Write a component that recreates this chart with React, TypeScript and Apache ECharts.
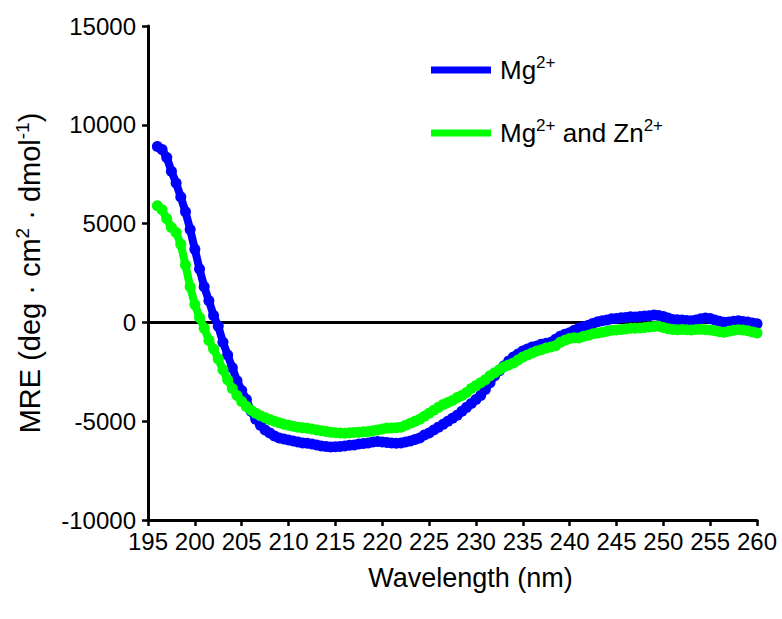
import React, { useEffect, useRef } from "react";
import * as echarts from "echarts";

// Wavelength grid (nm), sampled every 0.5 nm from 196 to 260
const wavelengthStart = 196;
const wavelengthStep = 0.5;

// Mean residue ellipticity, Mg2+ only
const mreMg = [
  8900, 8750, 8350, 7650, 7050, 6350, 5600, 4700, 3700, 2700,
  1800, 1100, 350, -200, -1000, -1650, -2300, -2950, -3450, -3900,
  -4500, -4900, -5200, -5450, -5600, -5750, -5850, -5900, -5950, -6000,
  -6050, -6100, -6120, -6150, -6200, -6250, -6280, -6300, -6290, -6280,
  -6250, -6220, -6200, -6150, -6130, -6100, -6050, -6030, -6050, -6080,
  -6100, -6110, -6100, -6050, -6000, -5930, -5850, -5700, -5600, -5450,
  -5300, -5150, -5000, -4850, -4700, -4500, -4300, -4100, -3900, -3700,
  -3400, -3050, -2700, -2450, -2200, -1950, -1750, -1600, -1450, -1350,
  -1250, -1200, -1100, -1050, -1000, -850, -700, -600, -520, -400,
  -300, -220, -150, -50, 30, 80, 120, 180, 200, 230,
  250, 280, 270, 300, 320, 340, 380, 350, 300, 220,
  150, 130, 120, 100, 80, 120, 180, 220, 200, 120,
  60, 10, 20, 60, 80, 50, 20, -30, -70,
];

// Mean residue ellipticity, Mg2+ and Zn2+
const mreMgZn = [
  5900, 5700, 5250, 4800, 4550, 3950, 2900, 1800, 900, 250,
  -300, -900, -1350, -1850, -2400, -2900, -3350, -3700, -4000, -4250,
  -4450, -4600, -4720, -4820, -4920, -5000, -5080, -5150, -5200, -5250,
  -5300, -5330, -5360, -5400, -5450, -5480, -5520, -5560, -5580, -5600,
  -5610, -5590, -5570, -5560, -5540, -5520, -5480, -5440, -5400, -5350,
  -5340, -5330, -5300, -5200, -5100, -5000, -4900, -4750, -4600, -4450,
  -4300, -4150, -4050, -3950, -3800, -3700, -3550, -3350, -3200, -3050,
  -2900, -2700, -2550, -2400, -2250, -2150, -2050, -1900, -1750, -1650,
  -1550, -1450, -1380, -1300, -1250, -1180, -1000, -900, -820, -780,
  -790, -700, -650, -580, -540, -500, -450, -400, -380, -360,
  -330, -300, -290, -280, -260, -230, -210, -200, -260, -320,
  -360, -370, -360, -370, -380, -360, -350, -370, -380, -420,
  -470, -500, -450, -400, -370, -380, -420, -480, -540,
];

// Axis ranges and ticks
const xMin = 195;
const xMax = 260;
const xInterval = 5;
const yMin = -10000;
const yMax = 15000;
const yInterval = 5000;

const seriesNames = ["Mg", "MgZn"];
const seriesColors = ["#0000ff", "#00ff00"];

const FONT = "'Liberation Sans', Arial, Helvetica, sans-serif";

function toPairs(values: number[]): [number, number][] {
  return values.map((v, i) => [wavelengthStart + i * wavelengthStep, v]);
}

export default function App() {
  const ref = useRef<HTMLDivElement>(null);

  useEffect(() => {
    if (!ref.current) return;
    const chart = echarts.init(ref.current, undefined, { renderer: "svg" });

    const curve = (name: string, color: string, values: number[], z: number) => ({
      name,
      type: "line",
      data: toPairs(values),
      z,
      symbol: "circle",
      symbolSize: 11,
      showSymbol: true,
      itemStyle: { color },
      lineStyle: { color, width: 8 },
      emphasis: { disabled: true },
      silent: true,
    });

    const supRich = (size: number, lh: number) => ({
      b: { fontSize: size, lineHeight: lh, fontFamily: FONT, color: "#000" },
      s: {
        fontSize: Math.round(size * 0.64),
        lineHeight: Math.round(lh * 0.62),
        verticalAlign: "top",
        fontFamily: FONT,
        color: "#000",
      },
    });

    chart.setOption({
      animation: false,
      textStyle: { fontFamily: FONT, color: "#000" },
      grid: { left: 148, right: 25, top: 26, bottom: 99, containLabel: false },
      legend: {
        orient: "vertical",
        left: 426,
        top: 49,
        itemWidth: 60,
        itemHeight: 7,
        itemGap: 34,
        icon: "rect",
        selectedMode: false,
        data: seriesNames,
        formatter: (name: string) =>
          name === "Mg" ? "{b|Mg}{s|2+}" : "{b|Mg}{s|2+}{b| and Zn}{s|2+}",
        textStyle: {
          fontFamily: FONT,
          color: "#000",
          padding: [0, 0, 0, 4],
          rich: supRich(26, 32),
        },
      },
      xAxis: {
        type: "value",
        min: xMin,
        max: xMax,
        interval: xInterval,
        name: "Wavelength (nm)",
        nameLocation: "middle",
        nameGap: 44,
        nameTextStyle: { fontSize: 27, fontFamily: FONT, color: "#000", padding: [0, 0, 0, 36] },
        axisLine: { onZero: false, lineStyle: { color: "#000", width: 3 } },
        axisTick: { show: true, inside: false, length: 6, lineStyle: { color: "#000", width: 2.5 } },
        axisLabel: { fontSize: 24, color: "#000", fontFamily: FONT, margin: 9 },
        splitLine: { show: false },
      },
      yAxis: {
        type: "value",
        min: yMin,
        max: yMax,
        interval: yInterval,
        name: "{b|MRE (deg · cm}{s|2}{b| · dmol}{s|-1}{b|)}",
        nameLocation: "middle",
        nameRotate: 90,
        nameGap: 101,
        nameTextStyle: {
          fontFamily: FONT,
          color: "#000",
          rich: supRich(29, 34),
        },
        axisLine: { show: true, onZero: false, lineStyle: { color: "#000", width: 3 } },
        axisTick: { show: true, inside: false, length: 6, lineStyle: { color: "#000", width: 2.5 } },
        axisLabel: {
          fontSize: 24,
          color: "#000",
          fontFamily: FONT,
          margin: 12,
          formatter: (v: number) => String(v),
        },
        splitLine: { show: false },
      },
      series: [
        {
          name: "zero",
          type: "line",
          data: [
            [xMin, 0],
            [xMax, 0],
          ],
          symbol: "none",
          z: 1,
          silent: true,
          lineStyle: { color: "#000", width: 3 },
        },
        curve(seriesNames[0], seriesColors[0], mreMg, 2),
        curve(seriesNames[1], seriesColors[1], mreMgZn, 3),
      ],
    });

    return () => chart.dispose();
  }, []);

  return (
    <div
      ref={ref}
      style={{ position: "absolute", left: 0, top: 0, width: 782, height: 619, background: "#fff" }}
    />
  );
}
